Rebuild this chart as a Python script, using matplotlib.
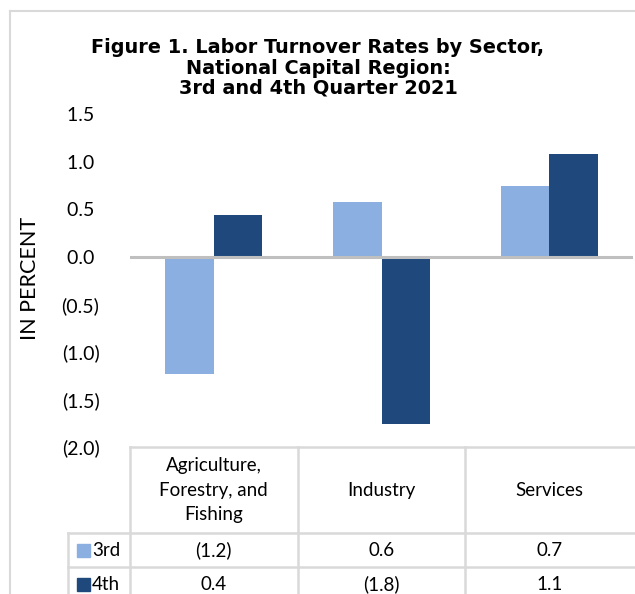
import matplotlib
matplotlib.use("Agg")
import matplotlib.pyplot as plt
from matplotlib.lines import Line2D
from matplotlib.patches import Rectangle
import numpy as np

# data
sectors = ["Agriculture,\nForestry, and\nFishing", "Industry", "Services"]
series = ["3rd", "4th"]
q3 = [-1.23, 0.58, 0.74]
q4 = [0.44, -1.76, 1.08]
colors = ["#8AAFE0", "#1F497D"]
yticks = [1.5, 1.0, 0.5, 0.0, -0.5, -1.0, -1.5, -2.0]

W, H = 635, 594
fig = plt.figure(figsize=(W / 100, H / 100), dpi=100)
plt.rcParams['font.family'] = ['Lato', 'DejaVu Sans']

def fx(x):
    return x / W

def fy(y):
    return 1 - y / H

# light frame of the chart area
fig.add_artist(Line2D([fx(10), fx(10)], [fy(11), 0], color="#d9d9d9", lw=1.5))
fig.add_artist(Line2D([fx(10), 1], [fy(11), fy(11)], color="#d9d9d9", lw=1.5))

fig.text(fx(318), fy(68), "Figure 1. Labor Turnover Rates by Sector,\nNational Capital Region:\n3rd and 4th Quarter 2021",
         ha="center", va="center", fontsize=13.9, fontweight="bold",
         family=["DejaVu Sans"], linespacing=1.08)

# bar axes
left, right, top, bottom = 130, 633, 114, 447
ax = fig.add_axes([fx(left), fy(bottom), (right - left) / W, (bottom - top) / H])
x = np.arange(len(sectors))
bw = 0.29
ax.bar(x - bw / 2, q3, bw, color=colors[0], zorder=2)
ax.bar(x + bw / 2, q4, bw, color=colors[1], zorder=2)
ax.axhline(0, color="#bfbfbf", lw=2.2, zorder=3)
ax.set_xlim(-0.5, 2.5)
ax.set_ylim(-2.0, 1.5)
ax.set_xticks([])
ax.set_yticks(yticks)

def fmt(v):
    return "({:.1f})".format(-v) if v < 0 else "{:.1f} ".format(v)

ax.set_yticklabels([fmt(v) for v in yticks], fontsize=14)
ax.tick_params(axis="y", length=0, pad=22)
for s in ax.spines.values():
    s.set_visible(False)
fig.text(fx(30), fy(278), "IN PERCENT", rotation=90, ha="center", va="center", fontsize=15.5)

# data table below the plot
unit = (right - left) / 3
tleft = -0.5 - (left - 68) / unit
tright = 2.5 + (W - right) / unit
tab = fig.add_axes([fx(68), 0, (W - 68) / W, (H - 447) / H])
tab.set_xlim(tleft, tright)
tab.set_ylim(H, 447)
tab.axis("off")
gc = "#d9d9d9"
lw = 1.8
tab.plot([-0.5, tright], [447, 447], color=gc, lw=lw, clip_on=False)
for y in [533, 567]:
    tab.plot([tleft, tright], [y, y], color=gc, lw=lw, clip_on=False)
for xv in [-0.5, 0.5, 1.5]:
    tab.plot([xv, xv], [447, H], color=gc, lw=lw, clip_on=False)
tab.plot([tleft, tleft], [533, H], color=gc, lw=lw, clip_on=False)

for i, name in enumerate(sectors):
    tab.text(i, 490, name, ha="center", va="center", fontsize=13.5, linespacing=1.55)

rows = [q3, q4]
row_y = [550, 584]
for r, (vals, yc) in enumerate(zip(rows, row_y)):
    sw = 13 / unit
    tab.add_patch(Rectangle((tleft + 9 / unit, yc - 6.5), sw, 13, color=colors[r], clip_on=False))
    tab.text(tleft + 24 / unit, yc, series[r], ha="left", va="center", fontsize=13.5)
    for i, v in enumerate(vals):
        tab.text(i, yc, fmt(v).strip(), ha="center", va="center", fontsize=13.5)

fig.savefig("out.png", dpi=100)
